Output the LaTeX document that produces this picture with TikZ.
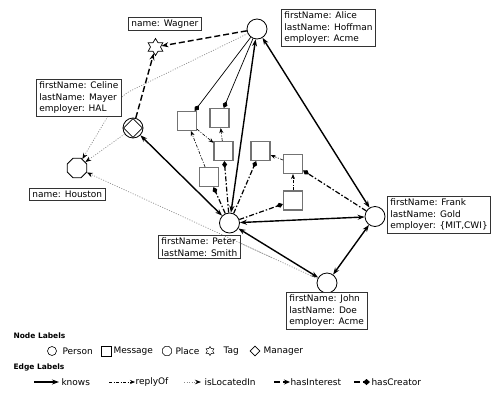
\documentclass[tikz,border=0pt]{standalone}
\usepackage{fontspec}
\setmainfont{DejaVu Sans}
\usetikzlibrary{arrows.meta,shapes.geometric}
\begin{document}
\begin{tikzpicture}[x=1pt,y=-1pt,
  every node/.style={font=\fontsize{9}{11.5}\selectfont},
  person/.style={circle,draw,line width=0.8pt,minimum size=20pt,inner sep=0pt,fill=white},
  msg/.style={rectangle,draw=black!55,line width=1.1pt,minimum size=19pt,inner sep=0pt,fill=white},
  lbl/.style={draw=black!80,line width=0.8pt,align=left,inner xsep=3pt,inner ysep=2.5pt,anchor=north west,fill=white},
  tagshape/.style={star,star points=6,star point ratio=1.7,draw,line width=0.7pt,inner sep=0pt,fill=white},
  placeshape/.style={regular polygon,regular polygon sides=8,draw,line width=0.8pt,inner sep=0pt,fill=white},
  knows/.style={line width=1.4pt,{Stealth[length=7pt,width=5pt]}-{Stealth[length=7pt,width=5pt]}},
  knowsone/.style={line width=1.4pt,-{Stealth[length=7pt,width=5pt]}},
  interest/.style={line width=1.4pt,dash pattern=on 6pt off 3pt,-{Stealth[length=7pt,width=5pt]}},
  creator/.style={line width=1.2pt,dash pattern=on 5pt off 2pt on 1.5pt off 2pt,-{Diamond[length=7pt,width=5pt]}},
  creatorthin/.style={line width=0.7pt,-{Diamond[length=7pt,width=5pt]}},
  reply/.style={line width=0.6pt,dash pattern=on 3pt off 1.5pt on 1pt off 1.5pt,-{Stealth[length=5pt,width=4pt]}},
  loc/.style={draw=black!45,line width=0.7pt,dash pattern=on 1pt off 1.5pt,-{Stealth[black,length=6pt,width=4.5pt]}},
  legtitle/.style={font=\fontsize{7.5}{9}\selectfont\bfseries,anchor=west},
  legtext/.style={anchor=west}
]
\useasboundingbox (0,0) rectangle (498,402);

% ---------- nodes ----------
\node[person] (alice) at (257,29) {};
\node[tagshape,minimum size=17pt] (tag) at (155.5,47) {};
\node[person] (manager) at (133,128) {};
\node[diamond,draw,line width=0.7pt,minimum size=19pt,inner sep=0pt] (managerd) at (manager) {};
\node[placeshape,minimum size=21pt] (houston) at (77,168) {};
\node[person] (peter) at (229.5,223) {};
\node[person] (frank) at (375,216.5) {};
\node[person] (john) at (327,283) {};

\node[msg] (m1) at (187,121) {};
\node[msg] (m2) at (219.5,118) {};
\node[msg] (m3) at (223.5,151) {};
\node[msg] (m4) at (209,177) {};
\node[msg] (m5) at (260.5,151) {};
\node[msg] (m6) at (293,164) {};
\node[msg] (m7) at (293,200.5) {};

\coordinate (bendA) at (120,96);

% ---------- edges ----------
% isLocatedIn
\draw[loc,rounded corners=12pt] (alice) -- (bendA) -- (houston);
\draw[loc] (manager) -- (houston);
\draw[loc] (john) -- (houston);

% hasInterest
\draw[interest] (alice) -- (tag);
\draw[interest] (manager) -- (tag);

% replyOf
\draw[reply] (m4) -- (m1);
\draw[reply] (m1) -- (m3);
\draw[reply] (m3) -- (m2);
\draw[reply] (m6) -- (m5);
\draw[reply] (m7) -- (m6);

% hasCreator
\draw[creatorthin] (alice) -- (m1);
\draw[creatorthin] (alice) -- (m2);
\draw[creator] (peter) -- (m3);
\draw[creator] (peter) -- (m4);
\draw[creator] (peter) -- (m5);
\draw[creator] (peter) -- (m7);
\draw[creator] (frank) -- (m6);

% knows
\draw[knows] (peter) -- (alice);
\draw[knows] (frank) -- (alice);
\draw[knows] (peter) -- (frank);
\draw[knows] (peter) -- (john);
\draw[knows] (frank) -- (john);
\draw[knows] (peter) -- (manager);

% ---------- labels ----------
\node[lbl] (aliceL) at (281,9) {firstName: Alice\\lastName: Hoffman\\employer: Acme};
\node[lbl] (wagnerL) at (128,17) {name: Wagner};
\node[lbl] (celineL) at (36,79) {firstName: Celine\\lastName: Mayer\\employer: HAL};
\node[lbl] (houstonL) at (29,188) {name: Houston};
\node[lbl] (peterL) at (158,235) {firstName: Peter\\lastName: Smith};
\node[lbl] (frankL) at (387,196) {firstName: Frank\\lastName: Gold\\employer: \{MIT,CWI\}};
\node[lbl] (johnL) at (286,292) {firstName: John\\lastName: Doe\\employer: Acme};

% redraw dotted line over Peter's label (it crosses it)
\draw[draw=black!45,line width=0.7pt,dash pattern=on 1pt off 1.5pt] (peterL.north east) ++(0,0) coordinate (pe);
\path (john) -- (houston) coordinate[pos=0.2] (jh1) coordinate[pos=0.4] (jh2);
\draw[draw=black!45,line width=0.7pt,dash pattern=on 1pt off 1.5pt] (jh1) -- (jh2);

% ---------- legend ----------
\node[legtitle] (nl) at (10,336) {Node Labels};
\node[circle,draw,line width=0.6pt,minimum size=9pt,inner sep=0pt] (lp) at (52,351) {};
\node[legtext] (lpt) at (59,351) {Person};
\node[rectangle,draw,line width=0.6pt,minimum size=10pt,inner sep=0pt] (lm) at (106,351) {};
\node[legtext] (lmt) at (110,351) {Message};
\node[placeshape,line width=0.6pt,minimum size=10pt] (lpl) at (167,351) {};
\node[legtext] (lplt) at (172,351) {Place};
\node[tagshape,line width=0.5pt,minimum size=9pt] (lt) at (210,351) {};
\node[legtext] (ltt) at (220,351) {Tag};
\node[diamond,draw,line width=0.6pt,minimum size=10pt,inner sep=0pt] (ld) at (255,351) {};
\node[legtext] (ldt) at (260,351) {Manager};

\node[legtitle] (el) at (10,367.5) {Edge Labels};
\coordinate (k1) at (34,382); \coordinate (k2) at (59,382);
\draw[knowsone,line width=1.1pt] (k1) -- (k2);
\node[legtext] (kt) at (58,382) {knows};
\coordinate (r1) at (109,382); \coordinate (r2) at (135,382);
\draw[reply] (r1) -- (r2);
\node[legtext] (rt) at (132,382) {replyOf};
\coordinate (i1) at (184,382); \coordinate (i2) at (201,382);
\draw[loc] (i1) -- (i2);
\node[legtext] (it) at (201,382) {isLocatedIn};
\coordinate (h1) at (274,382); \coordinate (h2) at (290,382);
\draw[line width=1.3pt,dash pattern=on 6pt off 3pt,-{Stealth[length=6pt,width=5pt]}] (h1) -- (h2);
\node[legtext] (ht) at (287,382) {hasInterest};
\coordinate (c1) at (354,382); \coordinate (c2) at (370,382);
\draw[line width=1.2pt,dash pattern=on 6pt off 3pt,-{Diamond[length=7pt,width=6pt]}] (c1) -- (c2);
\node[legtext] (ct) at (368,382) {hasCreator};
\end{tikzpicture}
\end{document}
